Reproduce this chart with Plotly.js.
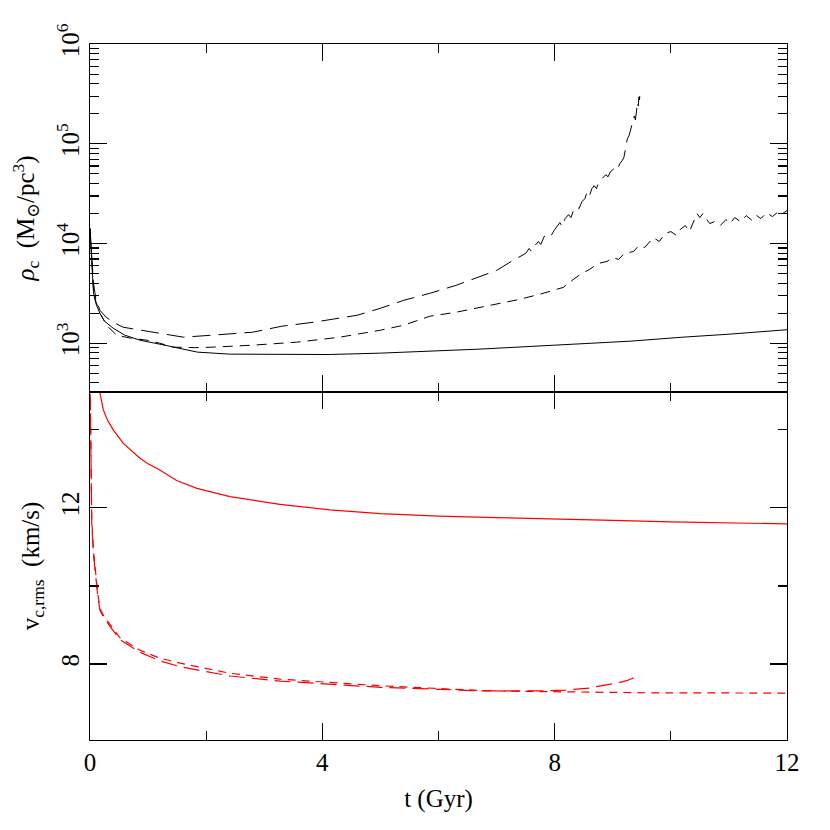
<!DOCTYPE html>
<html>
<head>
<meta charset="utf-8">
<script src="https://cdn.plot.ly/plotly-3.0.1.min.js"></script>
<style>body{margin:0;background:#fff}#plot{width:830px;height:830px}</style>
</head>
<body>
<div id="plot"></div>
<script>
// top panel: log10 of central density (Msun/pc^3)
var tSolid = [0, 0.03, 0.06, 0.1, 0.17, 0.25, 0.4, 0.6, 0.86, 1.2, 1.5, 1.85, 2.4, 3.3, 4.1, 5.0, 6.0, 6.7, 8.0, 9.3, 10.2, 11.0, 12.0];
var logRhoSolid = [4.15, 3.8, 3.5, 3.4, 3.3, 3.22, 3.15, 3.08, 3.03, 2.99, 2.95, 2.91, 2.89, 2.886, 2.886, 2.9, 2.92, 2.94, 2.98, 3.02, 3.06, 3.09, 3.135];

var tLong = [0, 0.03, 0.06, 0.1, 0.17, 0.28, 0.4, 0.57, 0.98, 1.3, 1.61, 2.1, 2.8, 3.3, 3.85, 4.6, 5.0, 5.4, 5.85, 6.3, 6.7, 7.0, 7.28,
  7.5, 7.56, 7.6, 7.66, 7.72, 7.76, 7.82, 7.88, 7.94, 8.0, 8.05, 8.09, 8.13, 8.18, 8.24, 8.28, 8.33, 8.38, 8.42, 8.47, 8.52, 8.56,
  8.6, 8.64, 8.68, 8.72, 8.76, 8.8, 8.84, 8.88, 8.92, 8.96, 9.0, 9.04, 9.08, 9.12, 9.16, 9.19, 9.22, 9.25, 9.28, 9.31, 9.34, 9.37,
  9.39, 9.41, 9.43, 9.44, 9.45, 9.46, 9.47];
var logRhoLong = [4.15, 3.85, 3.6, 3.45, 3.33, 3.26, 3.21, 3.16, 3.12, 3.09, 3.06, 3.08, 3.11, 3.17, 3.21, 3.28, 3.35, 3.43, 3.5, 3.58, 3.67, 3.73, 3.83,
  3.9, 3.95, 3.92, 3.98, 4.02, 3.99, 4.07, 4.1, 4.08, 4.14, 4.18, 4.21, 4.17, 4.25, 4.29, 4.26, 4.34, 4.37, 4.35, 4.42, 4.45, 4.52,
  4.48, 4.55, 4.58, 4.55, 4.62, 4.64, 4.66, 4.69, 4.67, 4.72, 4.74, 4.76, 4.74, 4.8, 4.83, 4.86, 4.95, 5.05, 5.08, 5.14, 5.22, 5.28,
  5.24, 5.35, 5.42, 5.38, 5.47, 5.44, 5.52];

var tShort = [0, 0.03, 0.06, 0.1, 0.17, 0.3, 0.46, 0.7, 0.98, 1.2, 1.43, 1.8, 2.12, 2.8, 3.56, 4.3, 5.0, 5.4, 5.85, 6.3, 6.71, 7.05, 7.4, 7.8,
  8.15, 8.3, 8.44, 8.6, 8.75, 8.9, 9.0, 9.1, 9.2, 9.36, 9.45, 9.55, 9.7, 9.8, 9.9, 10.0, 10.1, 10.16, 10.25, 10.32, 10.4, 10.45, 10.5,
  10.55, 10.62, 10.67, 10.75, 10.85, 10.95, 11.02, 11.1, 11.2, 11.3, 11.4, 11.48, 11.55, 11.65, 11.75, 11.85, 11.92, 12.0];
var logRhoShort = [4.15, 3.8, 3.55, 3.42, 3.3, 3.17, 3.08, 3.05, 3.03, 3.0, 2.96, 2.955, 2.96, 2.98, 3.01, 3.06, 3.13, 3.18, 3.27, 3.31, 3.36, 3.4, 3.44, 3.5,
  3.56, 3.63, 3.69, 3.74, 3.8, 3.82, 3.86, 3.84, 3.9, 3.92, 3.98, 3.96, 4.06, 4.02, 4.1, 4.12, 4.08, 4.14, 4.18, 4.12, 4.22, 4.3, 4.26,
  4.3, 4.24, 4.2, 4.22, 4.18, 4.24, 4.2, 4.26, 4.22, 4.28, 4.23, 4.28, 4.25, 4.31, 4.27, 4.32, 4.3, 4.33];

// bottom panel: core rms velocity (km/s)
var tVSolid = [0.12, 0.17, 0.23, 0.3, 0.4, 0.57, 0.86, 1.0, 1.18, 1.3, 1.49, 1.84, 2.41, 3.27, 4.13, 5.0, 6.0, 7.0, 8.0, 9.0, 10.0, 11.0, 12.0];
var vSolid = [15.6, 14.95, 14.51, 14.25, 14.0, 13.66, 13.27, 13.13, 12.99, 12.88, 12.7, 12.5, 12.29, 12.09, 11.95, 11.85, 11.79, 11.75, 11.72, 11.68, 11.64, 11.62, 11.59];

var tVLong = [0, 0.01, 0.02, 0.03, 0.06, 0.09, 0.13, 0.17, 0.23, 0.35, 0.52, 0.86, 1.2, 1.55, 2.0, 2.41, 3.27, 4.13, 5.0, 6.0, 6.71, 7.3, 7.86, 8.2, 8.44,
  8.6, 8.72, 8.85, 9.01, 9.1, 9.24, 9.35, 9.42, 9.46];
var vLong = [15.5, 14.0, 12.5, 11.6, 10.8, 10.33, 9.8, 9.38, 9.21, 8.95, 8.62, 8.3, 8.08, 7.93, 7.8, 7.69, 7.56, 7.49, 7.4, 7.35, 7.31, 7.31, 7.31, 7.33, 7.35,
  7.38, 7.42, 7.45, 7.5, 7.52, 7.57, 7.63, 7.68, 7.73];

var tVShort = [0, 0.01, 0.02, 0.03, 0.06, 0.09, 0.13, 0.17, 0.23, 0.35, 0.52, 0.86, 1.2, 1.55, 2.0, 2.41, 3.27, 4.13, 5.0, 6.0, 6.71, 7.3, 7.86, 8.44,
  9.0, 9.59, 10.2, 10.74, 11.3, 11.91, 12.0];
var vShort = [15.5, 14.2, 12.7, 11.7, 10.9, 10.4, 9.85, 9.42, 9.25, 9.0, 8.66, 8.35, 8.15, 8.02, 7.88, 7.76, 7.61, 7.52, 7.44, 7.37, 7.32, 7.3, 7.29, 7.27,
  7.26, 7.26, 7.26, 7.26, 7.25, 7.25, 7.25];

var rhoTicks = [1e3, 1e4, 1e5, 1e6];
var rhoTickText = ["10<sup>3</sup>", "10<sup>4</sup>", "10<sup>5</sup>", "10<sup>6</sup>"];

function pow10(a) { return a.map(function (v) { return Math.pow(10, v); }); }

var rhoMinor = [];
[100, 1000, 10000, 100000].forEach(function (d) {
  for (var k = 2; k <= 9; k++) rhoMinor.push(k * d);
});

var blk = "#000000", red = "#ff0000";
var data = [
  { x: tSolid, y: pow10(logRhoSolid), xaxis: "x2", yaxis: "y2", mode: "lines", line: { color: blk, width: 1 } },
  { x: tLong, y: pow10(logRhoLong), xaxis: "x2", yaxis: "y2", mode: "lines", line: { color: blk, width: 1, dash: "18px,8px" } },
  { x: tShort, y: pow10(logRhoShort), xaxis: "x2", yaxis: "y2", mode: "lines", line: { color: blk, width: 1, dash: "10px,7px" } },
  { x: tVSolid, y: vSolid, mode: "lines", line: { color: red, width: 1.2 } },
  { x: tVLong, y: vLong, mode: "lines", line: { color: red, width: 1.2, dash: "16px,7px" } },
  { x: tVShort, y: vShort, mode: "lines", line: { color: red, width: 1.2, dash: "8px,6px" } }
];

var font = { family: "Liberation Serif, DejaVu Serif, serif", size: 25, color: "#000" };
var titleFont = { family: "Liberation Serif, DejaVu Serif, serif", size: 25, color: "#000" };
var common = {
  showline: true, linecolor: "#000", linewidth: 1.2, mirror: "allticks",
  ticks: "inside", ticklen: 17, tickwidth: 1.2, tickcolor: "#000",
  showgrid: false, zeroline: false, tickfont: font
};

var layout = {
  width: 830, height: 830,
  margin: { l: 90, r: 43, t: 44, b: 90 },
  paper_bgcolor: "#fff", plot_bgcolor: "#fff",
  showlegend: false,
  font: font,
  xaxis: Object.assign({}, common, {
    anchor: "y", range: [0, 12], tickmode: "array", tickvals: [0, 4, 8, 12],
    minor: { tickmode: "array", tickvals: [2, 6, 10], ticks: "inside", ticklen: 9, tickcolor: "#000", tickwidth: 1.2 },
    title: { text: "t (Gyr)", font: titleFont, standoff: 14 }
  }),
  xaxis2: Object.assign({}, common, {
    anchor: "y2", matches: "x", range: [0, 12], tickmode: "array", tickvals: [0, 4, 8, 12], showticklabels: false,
    minor: { tickmode: "array", tickvals: [2, 6, 10], ticks: "inside", ticklen: 9, tickcolor: "#000", tickwidth: 1.2 }
  }),
  yaxis: Object.assign({}, common, {
    domain: [0, 0.5], anchor: "x", range: [6.05, 14.97], tickmode: "array", tickvals: [8, 12], tickangle: -90,
    minor: { tickmode: "array", tickvals: [6, 10, 14], ticks: "inside", ticklen: 9, tickcolor: "#000", tickwidth: 1.2 },
    title: { text: "v<sub>c,rms</sub>  (km/s)", font: titleFont, standoff: 10 }
  }),
  yaxis2: Object.assign({}, common, {
    domain: [0.5, 1], anchor: "x2", type: "log", range: [2.51, 6.002],
    tickmode: "array", tickvals: rhoTicks, ticktext: rhoTickText, tickangle: -90,
    minor: { tickmode: "array", tickvals: rhoMinor, ticks: "inside", ticklen: 9, tickcolor: "#000", tickwidth: 1.2 },
    title: { text: "<i>ρ</i><sub>c</sub>  (M<sub>⊙</sub>/pc<sup>3</sup>)", font: titleFont, standoff: 10 }
  })
};

Plotly.newPlot("plot", data, layout, { staticPlot: true });
</script>
</body>
</html>
